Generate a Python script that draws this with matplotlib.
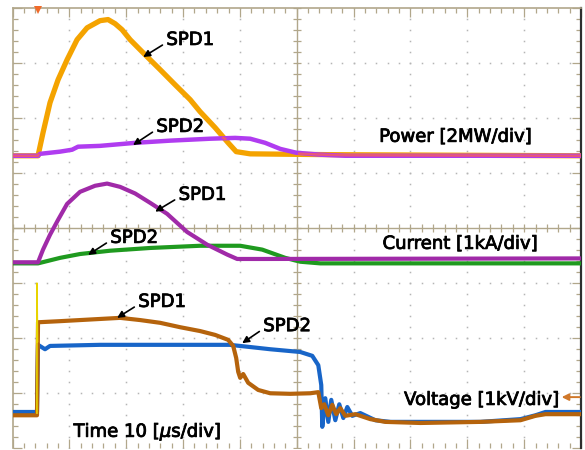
import matplotlib

matplotlib.use("Agg")
import matplotlib.pyplot as plt
import matplotlib.patheffects as pe
import numpy as np

plt.rcParams["font.family"] = ["DejaVu Sans"]
plt.rcParams["mathtext.fontset"] = "dejavusans"

# ---- data (time in us, 10 us/div) ----
# Power [MW], 2 MW/div
t_p_spd1 = [0, 4.49, 5.37, 6.60, 8.01, 9.60, 11.36, 13.12, 15.40, 16.81, 18.05, 19.28,
            20.69, 23.33, 25.97, 28.61, 31.25, 33.01, 35.65, 37.94, 39.35, 41.81, 55.90, 100]
p_spd1 = [0, 0, 0.84, 1.93, 2.76, 3.49, 4.22, 4.65, 4.91, 4.95, 4.80, 4.58,
          4.22, 3.67, 3.13, 2.58, 2.04, 1.60, 1.02, 0.47, 0.15, 0.07, 0.04, 0]
t_p_spd2 = [0, 4.49, 4.84, 8.36, 10.48, 11.53, 15.40, 21.57, 27.73, 34.77, 39.17, 41.81,
            44.45, 47.10, 49.91, 54.14, 58.54, 100]
p_spd2 = [0, 0, 0.07, 0.15, 0.22, 0.33, 0.36, 0.47, 0.55, 0.62, 0.65, 0.62,
          0.47, 0.25, 0.11, 0.04, 0, 0]

# Current [kA], 1 kA/div
t_i_spd1 = [0, 4.49, 5.37, 6.60, 8.01, 9.60, 11.88, 14.52, 16.64, 18.93, 21.57, 24.21,
            27.20, 30.72, 34.24, 37.76, 39.52, 43.57, 100]
i_spd1 = [0, 0, 0.23, 0.50, 0.77, 1.06, 1.28, 1.39, 1.43, 1.37, 1.25, 1.08,
          0.88, 0.55, 0.32, 0.14, 0.06, 0.06, 0.07]
t_i_spd2 = [0, 4.49, 8.36, 11.88, 17.17, 24.21, 33.01, 40.05, 43.93, 47.98, 50.62, 54.14, 100]
i_spd2 = [-0.02, -0.02, 0.08, 0.15, 0.21, 0.26, 0.30, 0.30, 0.23, 0.08, 0.01, -0.02, -0.02]

# Voltage [kV], 1 kV/div
t_v_spd1 = [0, 4.31, 4.49, 8.36, 15.40, 18.93, 22.45, 25.97, 29.49, 33.01, 35.65, 37.94,
            38.82, 39.35, 39.70, 40.05, 40.58, 41.46, 43.22, 45.33, 48.86, 52.38, 53.79,
            54.31, 54.84, 55.55, 56.25, 56.95, 57.66, 58.54, 60.30, 62.94, 65.58, 71.74,
            82.31, 89.35, 91.99, 93.75, 100]
v_spd1 = [-0.04, -0.04, 1.65, 1.67, 1.71, 1.73, 1.69, 1.64, 1.56, 1.49, 1.42, 1.33,
          1.22, 1.00, 0.75, 0.64, 0.71, 0.55, 0.42, 0.36, 0.35, 0.36, 0.38,
          0.09, 0.16, -0.04, 0.15, -0.02, 0.09, -0.05, -0.02, -0.11, -0.16, -0.18,
          -0.16, -0.13, -0.05, -0.02, -0.02]
t_v_spd2 = [0, 4.31, 4.49, 5.72, 6.60, 15.40, 38.20, 41.81, 45.33, 50.62, 52.73, 53.79,
            54.31, 54.49, 55.02, 55.55, 56.07, 56.78, 57.48, 58.19, 58.89, 59.77, 61.18,
            63.82, 66.46, 82.31, 89.35, 91.99, 93.75, 100]
v_spd2 = [0.02, 0.02, 1.24, 1.16, 1.22, 1.24, 1.24, 1.20, 1.16, 1.11, 1.04, 0.87,
          0.51, -0.25, 0.27, -0.16, 0.24, -0.13, 0.16, -0.09, 0.11, -0.05, 0.0,
          -0.13, -0.16, -0.16, -0.11, -0.04, 0.02, 0.02]
t_spike = [4.30, 4.30, 4.40]
v_spike = [0.0, 2.36, 1.30]

# channel settings: scale per div, zero position in div
P_SCALE, P_OFF = 2.0, 1.315
I_SCALE, I_OFF = 1.0, -0.62
V_SCALE, V_OFF = 1.0, -3.36

GRAT = "#b1a78b"

fig = plt.figure(figsize=(5.85, 4.5), dpi=100)
ax = fig.add_axes([12.5 / 585, 1 - 448.3 / 450, (581 - 12.5) / 585, (448.3 - 8) / 450])
ax.set_xlim(0, 100)
ax.set_ylim(-4, 4)

# graticule
ax.set_xticks(np.arange(0, 101, 10))
ax.set_xticks(np.arange(0, 101, 2), minor=True)
ax.set_yticks(np.arange(-4, 4.01, 1))
ax.set_yticks(np.arange(-4, 4.01, 0.2), minor=True)
ax.tick_params(which="both", direction="in", top=True, right=True, color=GRAT,
               labelbottom=False, labelleft=False, width=0.9)
ax.tick_params(which="major", length=6.5)
ax.tick_params(which="minor", length=3.6)
for s in ax.spines.values():
    s.set_color(GRAT)
    s.set_linewidth(1.2)
ax.spines["bottom"].set_visible(False)
ax.spines["right"].set_color("#2e2e2e")
ax.spines["right"].set_linewidth(1.6)

ydots = np.arange(-4, 4.01, 0.2)
xdots = np.arange(0, 100.1, 2)
for gx in [10, 20, 30, 40, 60, 70, 80, 90]:
    ax.plot(np.full_like(ydots, gx), ydots, ls="none", marker="s", ms=1.1, color="#b5b5b5", mew=0, zorder=1)
for gy in [-3, -2, -1, 1, 2, 3]:
    ax.plot(xdots, np.full_like(xdots, gy), ls="none", marker="s", ms=1.1, color="#b5b5b5", mew=0, zorder=1)
ax.axvline(50, color=GRAT, lw=1.0, zorder=1)
ax.axhline(0, color=GRAT, lw=1.0, zorder=1)
ax.plot(xdots, np.zeros_like(xdots), ls="none", marker="|", ms=6, mew=0.9, color=GRAT, zorder=1)
ax.plot(np.full_like(ydots, 50), ydots, ls="none", marker="_", ms=6, mew=0.9, color=GRAT, zorder=1)

# power
ax.plot(t_p_spd1, np.array(p_spd1) / P_SCALE + P_OFF, color="#f4a300", lw=3.8, zorder=3, solid_joinstyle="round")
ax.plot(t_p_spd2, np.array(p_spd2) / P_SCALE + P_OFF, color="#b03cf0", lw=3.2, zorder=4, solid_joinstyle="round")
tt = np.linspace(0, 100, 2000)
pa = np.interp(tt, t_p_spd1, p_spd1)
pb = np.interp(tt, t_p_spd2, p_spd2)
both = np.where(np.abs(pa - pb) < 0.05, (pa + pb) / 2, np.nan)
ax.plot(tt, both / P_SCALE + P_OFF, color="#e8587a", lw=1.8, zorder=5)

# current
ax.plot(t_i_spd2, np.array(i_spd2) / I_SCALE + I_OFF, color="#1f9a1f", lw=3.0, zorder=3, solid_joinstyle="round")
ax.plot(t_i_spd1, np.array(i_spd1) / I_SCALE + I_OFF, color="#a02aa8", lw=3.0, zorder=4, solid_joinstyle="round")

# voltage
ax.plot(t_v_spd2, np.array(v_spd2) / V_SCALE + V_OFF, color="#1865c8", lw=3.0, zorder=3, solid_joinstyle="round")
ax.plot(t_v_spd1, np.array(v_spd1) / V_SCALE + V_OFF, color="#b5630c", lw=3.0, zorder=4, solid_joinstyle="round")
ax.plot(t_spike, np.array(v_spike) / V_SCALE + V_OFF, color="#e8d400", lw=1.2, zorder=5)

# markers: trigger and voltage ground reference
ax.plot([4.4], [3.96], marker="v", ms=6, color="#f06a2a", mew=0, clip_on=False, zorder=6)
ax.annotate("", xy=(96.6, -3.07), xytext=(99.8, -3.07),
            arrowprops=dict(arrowstyle="-|>", color="#d0782a", lw=1.4, mutation_scale=10,
                            shrinkA=0, shrinkB=0))

# labels
fs = 13
bold = [pe.withStroke(linewidth=0.6, foreground="black")]
ax.text(77.9, 1.66, "Power [2MW/div]", fontsize=fs, ha="center", va="center", path_effects=bold)
ax.text(78.7, -0.285, "Current [1kA/div]", fontsize=fs, ha="center", va="center", path_effects=bold)
ax.text(82.5, -3.12, "Voltage [1kV/div]", fontsize=fs, ha="center", va="center", path_effects=bold)
ax.text(23.7, -3.70, r"Time 10 [$\mu$s/div]", fontsize=fs, ha="center", va="center", path_effects=bold)

notes = [
    ("SPD1", (31.25, 3.42), (22.98, 3.11)),
    ("SPD2", (29.5, 1.84), (21.2, 1.51)),
    ("SPD1", (33.4, 0.605), (25.1, 0.30)),
    ("SPD2", (21.4, -0.176), (13.3, -0.485)),
    ("SPD1", (26.3, -1.34), (18.4, -1.63)),
    ("SPD2", (48.3, -1.78), (40.4, -2.09)),
]
for label, txt, head in notes:
    ax.annotate(label, xy=head, xytext=txt, fontsize=fs, ha="center", va="center", zorder=7,
                path_effects=bold,
                arrowprops=dict(arrowstyle="-|>", color="black", lw=1.2, mutation_scale=10,
                                shrinkA=1, shrinkB=0, relpos=(0.0, 0.35)))

fig.savefig("out.png", dpi=100, facecolor="white")
